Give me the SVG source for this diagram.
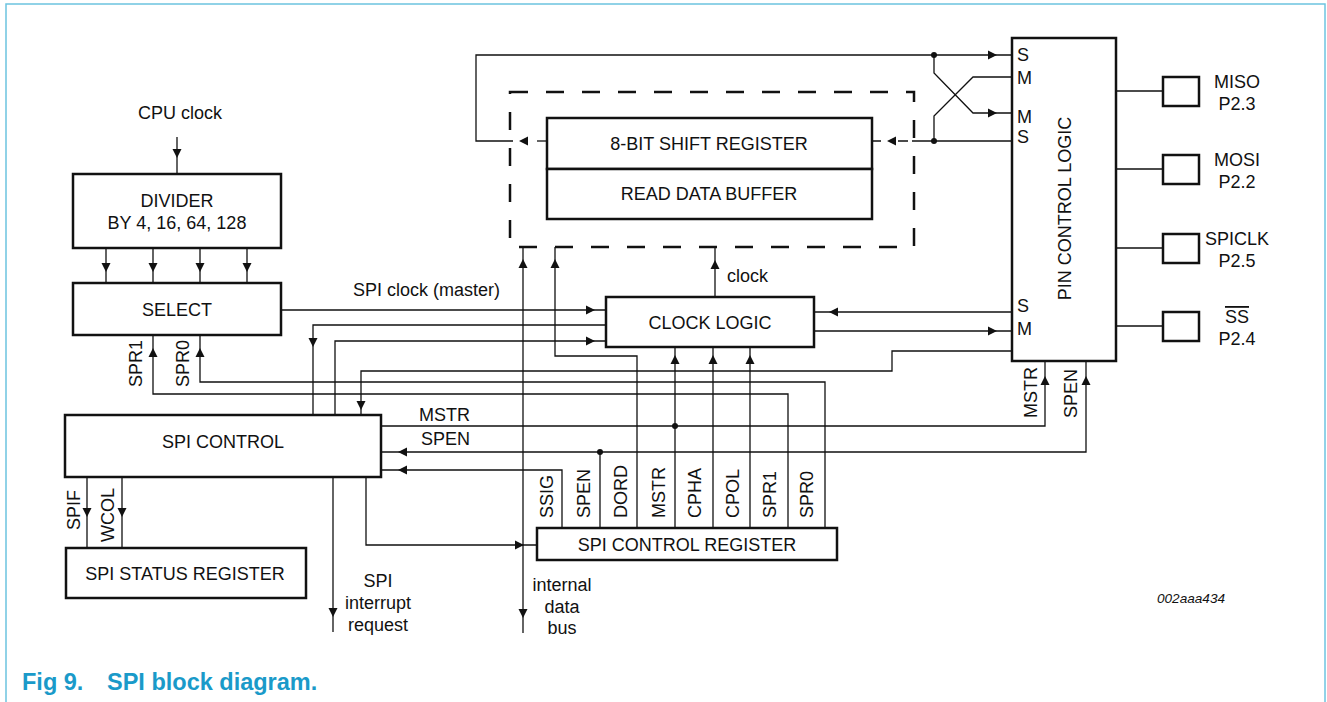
<svg xmlns="http://www.w3.org/2000/svg" xmlns:xlink="http://www.w3.org/1999/xlink" width="1327" height="702" viewBox="0 0 1327 702">
<style>
.box{fill:#fff;stroke:#111;stroke-width:2.5}
.ln{fill:none;stroke:#111;stroke-width:1.3}
.dash{fill:none;stroke:#111;stroke-width:2.5;stroke-dasharray:18 18}
.t{font-family:"Liberation Sans",Arial,sans-serif;font-size:18px;fill:#111}
.m{text-anchor:middle}
.cap{font-family:"Liberation Sans",Arial,sans-serif;font-size:23.5px;font-weight:bold;fill:#1a9ac9}
.id{font-family:"Liberation Sans",Arial,sans-serif;font-size:13.6px;font-style:italic;fill:#111}
</style>
<defs>
<path id="ah" d="M0,0 L-9,-4.5 L-9,4.5 Z" fill="#111"/>
</defs>
<rect x="6" y="4" width="1319" height="740" fill="none" stroke="#6cc4e0" stroke-width="1.5"/>

<g id="connectors">
<!-- CPU clock -->
<path class="ln" d="M177,137 V174"/>
<use xlink:href="#ah" transform="translate(177,158) rotate(90)"/>
<!-- divider to select -->
<path class="ln" d="M106,248 V283 M153,248 V283 M200,248 V283 M247,248 V283"/>
<use xlink:href="#ah" transform="translate(106,272) rotate(90)"/>
<use xlink:href="#ah" transform="translate(153,272) rotate(90)"/>
<use xlink:href="#ah" transform="translate(200,272) rotate(90)"/>
<use xlink:href="#ah" transform="translate(247,272) rotate(90)"/>
<!-- SPR1 / SPR0 -->
<path class="ln" d="M153,335 V394 H788 V528"/>
<use xlink:href="#ah" transform="translate(153,348) rotate(-90)"/>
<path class="ln" d="M200,335 V382 H825 V528"/>
<use xlink:href="#ah" transform="translate(200,348) rotate(-90)"/>
<!-- SPI clock (master) -->
<path class="ln" d="M281,310 H606"/>
<use xlink:href="#ah" transform="translate(595,310)"/>
<!-- clock logic to SPI control -->
<path class="ln" d="M606,325 H313 V415"/>
<use xlink:href="#ah" transform="translate(313,347) rotate(90)"/>
<!-- SPI control to clock logic -->
<path class="ln" d="M335,415 V341 H606"/>
<use xlink:href="#ah" transform="translate(595,341)"/>
<!-- pin control to SPI control -->
<path class="ln" d="M1012,351 H892 V371 H361 V415"/>
<use xlink:href="#ah" transform="translate(361,410) rotate(90)"/>
<!-- pin S -> clock logic, clock logic -> pin M -->
<path class="ln" d="M1012,312 H814"/>
<use xlink:href="#ah" transform="translate(829,312) rotate(180)"/>
<path class="ln" d="M814,331 H1012"/>
<use xlink:href="#ah" transform="translate(997,331)"/>
<!-- MSTR -->
<path class="ln" d="M381,426 H1045 V361"/>
<use xlink:href="#ah" transform="translate(1045,376) rotate(-90)"/>
<circle cx="675" cy="426" r="3" fill="#111"/>
<!-- SPEN -->
<path class="ln" d="M1086,361 V452 H381"/>
<use xlink:href="#ah" transform="translate(1086,376) rotate(-90)"/>
<use xlink:href="#ah" transform="translate(398,452) rotate(180)"/>
<circle cx="600" cy="452" r="3" fill="#111"/>
<path class="ln" d="M600,528 V452"/>
<!-- SSIG -->
<path class="ln" d="M562,528 V470 H381"/>
<use xlink:href="#ah" transform="translate(398,470) rotate(180)"/>
<!-- register bits to clock logic -->
<path class="ln" d="M675,528 V347 M713,528 V347 M750,528 V347"/>
<use xlink:href="#ah" transform="translate(675,355) rotate(-90)"/>
<use xlink:href="#ah" transform="translate(713,355) rotate(-90)"/>
<use xlink:href="#ah" transform="translate(750,355) rotate(-90)"/>
<!-- DORD -->
<path class="ln" d="M637,528 V356 H555 V247"/>
<use xlink:href="#ah" transform="translate(555,259) rotate(-90)"/>
<!-- internal data bus -->
<path class="ln" d="M523,247 V633"/>
<use xlink:href="#ah" transform="translate(523,259) rotate(-90)"/>
<use xlink:href="#ah" transform="translate(523,618) rotate(90)"/>
<!-- SPI control to register -->
<path class="ln" d="M366,477 V545 H537"/>
<use xlink:href="#ah" transform="translate(524,545)"/>
<!-- SPIF / WCOL -->
<path class="ln" d="M87,477 V548 M122,477 V548"/>
<use xlink:href="#ah" transform="translate(87,517) rotate(90)"/>
<use xlink:href="#ah" transform="translate(122,517) rotate(90)"/>
<!-- interrupt -->
<path class="ln" d="M333,477 V632"/>
<use xlink:href="#ah" transform="translate(333,617) rotate(90)"/>
<!-- clock to shift register -->
<path class="ln" d="M715,297 V247"/>
<use xlink:href="#ah" transform="translate(715,260) rotate(-90)"/>
<!-- shift register loop -->
<path class="ln" d="M513,141 H476 V55 H1012"/>
<use xlink:href="#ah" transform="translate(997,55)"/>
<circle cx="934" cy="55" r="3" fill="#111"/>
<path class="ln" d="M537,141 H547"/>
<use xlink:href="#ah" transform="translate(519,141) rotate(180)"/>
<path class="ln" d="M1012,141 H912"/>
<circle cx="934" cy="141" r="3" fill="#111"/>
<path class="ln" d="M872,141 H881 M898,141 H908"/>
<use xlink:href="#ah" transform="translate(887,141) rotate(180)"/>
<!-- crossover -->
<path class="ln" d="M934,55 V73 L973,113 H1012"/>
<use xlink:href="#ah" transform="translate(997,113)"/>
<path class="ln" d="M1012,77 H973 L934,116 V141"/>
<!-- pins -->
<path class="ln" d="M1116,91 H1163 M1116,169 H1163 M1116,248 H1163 M1116,326 H1163"/>
</g>

<g id="cpu-clock"><text class="t m" x="180" y="119">CPU clock</text></g>

<g id="divider">
<rect class="box" x="73" y="174" width="208" height="74"/>
<text class="t m" x="177" y="207">DIVIDER</text>
<text class="t m" x="177" y="229">BY 4, 16, 64, 128</text>
</g>

<g id="select">
<rect class="box" x="73" y="283" width="208" height="52"/>
<text class="t m" x="177" y="316">SELECT</text>
<text class="t" transform="translate(141.5,387) rotate(-90)">SPR1</text>
<text class="t" transform="translate(189,387) rotate(-90)">SPR0</text>
</g>

<g id="spi-clock-label"><text class="t" x="353" y="296">SPI clock (master)</text></g>

<g id="shift-block">
<rect class="dash" x="510" y="92" width="404" height="155"/>
<rect class="box" x="547" y="118" width="325" height="51"/>
<text class="t m" x="709" y="150">8-BIT SHIFT REGISTER</text>
<rect class="box" x="547" y="169" width="325" height="50"/>
<text class="t m" x="709" y="200">READ DATA BUFFER</text>
</g>

<g id="clock-logic">
<rect class="box" x="606" y="297" width="208" height="50"/>
<text class="t m" x="710" y="329">CLOCK LOGIC</text>
<text class="t" x="727" y="282">clock</text>
</g>

<g id="pin-control">
<rect class="box" x="1012" y="38" width="104" height="323"/>
<text class="t m" transform="translate(1071,208.5) rotate(-90)">PIN CONTROL LOGIC</text>
<text class="t" x="1017" y="61">S</text>
<text class="t" x="1017" y="84">M</text>
<text class="t" x="1017" y="123">M</text>
<text class="t" x="1017" y="143">S</text>
<text class="t" x="1017" y="312">S</text>
<text class="t" x="1017" y="335">M</text>
<text class="t" transform="translate(1036.5,418) rotate(-90)">MSTR</text>
<text class="t" transform="translate(1076.5,418) rotate(-90)">SPEN</text>
</g>

<g id="pin-miso">
<rect class="box" x="1163" y="77" width="36" height="29"/>
<text class="t m" x="1237" y="88">MISO</text>
<text class="t m" x="1237" y="110">P2.3</text>
</g>
<g id="pin-mosi">
<rect class="box" x="1163" y="155" width="36" height="29"/>
<text class="t m" x="1237" y="166">MOSI</text>
<text class="t m" x="1237" y="188">P2.2</text>
</g>
<g id="pin-spiclk">
<rect class="box" x="1163" y="234" width="36" height="29"/>
<text class="t m" x="1237" y="245">SPICLK</text>
<text class="t m" x="1237" y="267">P2.5</text>
</g>
<g id="pin-ss">
<rect class="box" x="1163" y="312" width="36" height="29"/>
<text class="t m" x="1237" y="323" text-decoration="overline">SS</text>
<text class="t m" x="1237" y="345">P2.4</text>
</g>

<g id="spi-control">
<rect class="box" x="65" y="415" width="316" height="62"/>
<text class="t m" x="223" y="448">SPI CONTROL</text>
<text class="t" x="419" y="421">MSTR</text>
<text class="t" x="421" y="445">SPEN</text>
<text class="t" transform="translate(79.5,530) rotate(-90)">SPIF</text>
<text class="t" transform="translate(113.5,542) rotate(-90)">WCOL</text>
</g>

<g id="spi-status">
<rect class="box" x="66" y="548" width="240" height="50"/>
<text class="t m" x="185" y="580">SPI STATUS REGISTER</text>
</g>

<g id="interrupt">
<text class="t m" x="378" y="587">SPI</text>
<text class="t m" x="378" y="609">interrupt</text>
<text class="t m" x="378" y="631">request</text>
</g>

<g id="data-bus">
<text class="t m" x="562" y="591">internal</text>
<text class="t m" x="562" y="613">data</text>
<text class="t m" x="562" y="634">bus</text>
</g>

<g id="spi-control-register">
<rect class="box" x="537" y="528" width="300" height="32"/>
<text class="t m" x="687" y="551">SPI CONTROL REGISTER</text>
<text class="t" transform="translate(552.5,518) rotate(-90)">SSIG</text>
<text class="t" transform="translate(590,518) rotate(-90)">SPEN</text>
<text class="t" transform="translate(626.5,518) rotate(-90)">DORD</text>
<text class="t" transform="translate(664.5,518) rotate(-90)">MSTR</text>
<text class="t" transform="translate(700.5,518) rotate(-90)">CPHA</text>
<text class="t" transform="translate(738.5,518) rotate(-90)">CPOL</text>
<text class="t" transform="translate(775.5,518) rotate(-90)">SPR1</text>
<text class="t" transform="translate(812.5,518) rotate(-90)">SPR0</text>
</g>

<g id="caption">
<text class="id" x="1157" y="603">002aaa434</text>
<text class="cap" x="22" y="690">Fig 9.</text>
<text class="cap" x="107" y="690">SPI block diagram.</text>
</g>
</svg>
